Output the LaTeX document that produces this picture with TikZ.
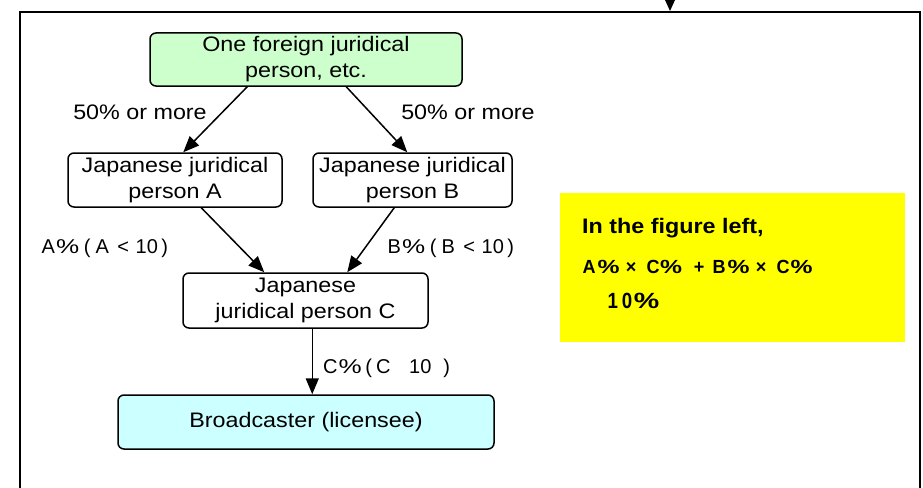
\documentclass[tikz,border=0pt]{standalone}
\usepackage{fontspec}
\setmainfont{Liberation Sans}[FakeStretch=1.11]
\newfontfamily\pctfont{Liberation Sans}
\newfontfamily\notefont{Liberation Sans}[FakeStretch=0.95]
\newfontfamily\lastfont{Liberation Sans}[FakeStretch=0.85]
\newfontfamily\pctwide{Liberation Sans}[FakeStretch=1.3]
\newcommand\widepct{{\pctwide\%}}
\newcommand\hs[1]{\hspace*{#1pt}}
\usetikzlibrary{arrows.meta}
\definecolor{boxgreen}{HTML}{CCFFCC}
\definecolor{boxcyan}{HTML}{CCFFFF}
\definecolor{noteyellow}{HTML}{FFFF00}
\begin{document}
\begin{tikzpicture}[x=1pt,y=-1pt,
  box/.style={draw, line width=1.5pt, rounded corners=6pt, inner sep=0pt, align=center, font=\fontsize{21}{26}\selectfont},
  conn/.style={line width=1.5pt, -{Triangle[length=16pt,width=13pt]}},
  lab/.style={font=\fontsize{21}{26}\selectfont, inner sep=0pt},
  pct/.style={font=\pctfont\fontsize{20}{24}\selectfont, inner sep=0pt, anchor=base west},
  notetext/.style={inner sep=0pt, anchor=base west}]
\useasboundingbox (0,0) rectangle (923,487);
\fill[white] (0,0) rectangle (923,487);
\draw[line width=1.5pt] (20,495) -- (20,12) -- (920,12) -- (920,495);
\fill (665,0) -- (675,0) -- (670,11) -- cycle;

\node[box, fill=boxgreen, minimum width=312pt, minimum height=53pt] (top) at (306,59.5) {One foreign juridical\\person, etc.};
\node[box, minimum width=214pt, minimum height=54pt] (A) at (175,180) {Japanese juridical\\person A};
\node[box, minimum width=199pt, minimum height=54pt] (B) at (412.5,180) {Japanese juridical\\person B};
\node[box, minimum width=245pt, minimum height=55pt] (C) at (305.5,300.5) {Japanese\\juridical person C};
\node[box, fill=boxcyan, minimum width=376pt, minimum height=54pt] (D) at (306,422) {Broadcaster (licensee)};

\draw[conn] ([xshift=98pt]top.south west) -- ([xshift=116pt]A.north west);
\draw[conn] ([xshift=197pt]top.south west) -- ([xshift=95pt]B.north west);
\draw[conn] ([xshift=134pt]A.south west) -- ([xshift=82pt]C.north west);
\draw[conn] ([xshift=82pt]B.south west) -- ([xshift=165pt]C.north west);
\draw[conn] ([xshift=130pt]C.south west) -- ([xshift=195pt]D.north west);

\node[lab] (l1) at (140,112) {50\% or more};
\node[lab] (l2) at (468,112) {50\% or more};
\node[pct] (pa) at (41.5,253) {A\hs{1}\widepct\hs{4.8}(\hs{5}A\hs{8.5}<\hs{6.5}10\hs{3.5})};
\node[pct] (pb) at (387.5,253) {B\hs{1}\widepct\hs{4.8}(\hs{5}B\hs{8.5}<\hs{6.5}10\hs{3.5})};
\node[pct] (pc) at (322.8,373) {C\hs{1.2}\widepct\hs{3.6}(\hs{4}C\hs{18.7}10\hs{12})};

\node[fill=noteyellow, minimum width=345pt, minimum height=149pt, inner sep=0pt, anchor=north west] (note) at (560,193) {};
\node[notetext, font=\bfseries\fontsize{21}{26}\selectfont] (n1) at (582,233) {In the figure left,};
\node[notetext, font=\notefont\bfseries\fontsize{19}{22}\selectfont] (n2) at (582.5,273)
  {A\hs{2}\widepct\hs{6.2}×\hs{10.2}C\hs{0.5}\widepct\hs{11.7}+\hs{8.2}B\hs{2}\widepct\hs{6.2}×\hs{10.2}C\hs{1}\widepct};
\node[notetext, font=\lastfont\bfseries\fontsize{22}{26}\selectfont] (n3) at (607.3,308) {1\hs{4}0\hs{1.6}\widepct};
\end{tikzpicture}
\end{document}
